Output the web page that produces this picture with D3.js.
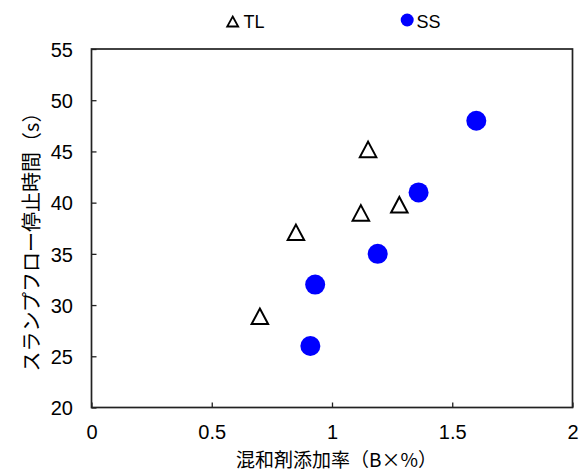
<!DOCTYPE html>
<html>
<head>
<meta charset="utf-8">
<script src="https://cdn.jsdelivr.net/npm/d3@7"></script>
<style>
  html, body { margin: 0; padding: 0; background: #fff; }
  svg text { font-family: "Liberation Sans", Arial, "Noto Sans CJK JP", sans-serif; fill: #000; }
  .tick text { font-family: "Liberation Sans Narrow", "Arial Narrow", "Liberation Sans", sans-serif; }
  .jp { font-family: "Noto Sans CJK JP", sans-serif; }
</style>
</head>
<body>
<svg id="chart" width="584" height="473"></svg>
<script>
// Mixing agent dosage (B×%) vs slump-flow stop time (s)
const tlX = [0.70, 0.85, 1.12, 1.15, 1.28];
const tlY = [28.9, 37.1, 39.0, 45.2, 39.8];
const ssX = [0.91, 0.93, 1.19, 1.36, 1.60];
const ssY = [26.0, 32.0, 35.0, 41.0, 48.0];
const xTicks = [0, 0.5, 1, 1.5, 2];
const xTickLabels = ["0", "0.5", "1", "1.5", "2"];
const yTicks = [20, 25, 30, 35, 40, 45, 50, 55];
const seriesNames = ["TL", "SS"];
const xTitle = "混和剤添加率（B×%）";
const yTitle = "スランプフロー停止時間（s）";

const svg = d3.select("#chart");
const plotL = 91.5, plotR = 572.5, plotT = 49, plotB = 407.5;

const x = d3.scaleLinear().domain([0, 2]).range([plotL, plotR]);
const y = d3.scaleLinear().domain([20, 55]).range([plotB, plotT]);

// axes with inward ticks
const xAxis = d3.axisBottom(x).tickValues(xTicks)
  .tickFormat((d, i) => xTickLabels[i]).tickSizeInner(-5).tickSizeOuter(0).tickPadding(17.5);
const yAxis = d3.axisLeft(y).tickValues(yTicks)
  .tickSizeInner(-5).tickSizeOuter(0).tickPadding(18.5);

const gx = svg.append("g").attr("transform", `translate(0,${plotB})`).call(xAxis);
const gy = svg.append("g").attr("transform", `translate(${plotL},0)`).call(yAxis);
[gx, gy].forEach(g => {
  g.select(".domain").remove();
  g.selectAll(".tick line").attr("stroke", "#222").attr("stroke-width", 1.3);
  g.selectAll(".tick text").attr("font-size", 20).attr("font-family", null);
});
gy.selectAll(".tick text").attr("dy", "0.36em");

// plot frame
svg.append("rect")
  .attr("x", plotL).attr("y", plotT)
  .attr("width", plotR - plotL).attr("height", plotB - plotT)
  .attr("fill", "none").attr("stroke", "#222").attr("stroke-width", 1.7);

// TL series: open triangles
const triPath = (cx, cy, w, h) =>
  `M${cx},${cy - h / 2}L${cx + w / 2},${cy + h / 2}L${cx - w / 2},${cy + h / 2}Z`;
svg.append("g").selectAll("path")
  .data(tlX.map((v, i) => [v, tlY[i]]))
  .join("path")
  .attr("d", d => triPath(x(d[0]), y(d[1]), 16.5, 15.5))
  .attr("fill", "none").attr("stroke", "#000").attr("stroke-width", 2);

// SS series: filled blue circles
svg.append("g").selectAll("circle")
  .data(ssX.map((v, i) => [v, ssY[i]]))
  .join("circle")
  .attr("cx", d => x(d[0])).attr("cy", d => y(d[1]))
  .attr("r", 10).attr("fill", "#0000ff");

// legend
const lg = svg.append("g");
lg.append("path").attr("d", triPath(232.7, 21.5, 11, 10))
  .attr("fill", "none").attr("stroke", "#000").attr("stroke-width", 1.8);
lg.append("text").attr("x", 243.5).attr("y", 27.5).attr("font-size", 18).text(seriesNames[0]);
lg.append("circle").attr("cx", 407.2).attr("cy", 20).attr("r", 6.5).attr("fill", "#0000ff");
lg.append("text").attr("x", 416.5).attr("y", 27.5).attr("font-size", 18).text(seriesNames[1]);

// axis titles
svg.append("text").attr("class", "jp")
  .attr("x", 336.5).attr("y", 458.5)
  .attr("dominant-baseline", "central")
  .attr("text-anchor", "middle").attr("font-size", 19).text(xTitle);
svg.append("text").attr("class", "jp")
  .attr("transform", `translate(30,237) rotate(-90)`)
  .attr("dominant-baseline", "central")
  .attr("text-anchor", "middle").attr("font-size", 20).text(yTitle);
</script>
</body>
</html>
